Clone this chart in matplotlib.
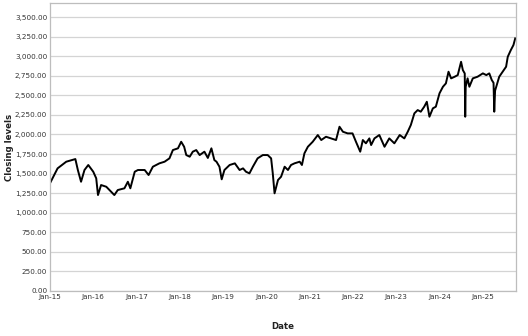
import matplotlib.pyplot as plt
import matplotlib.dates as mdates
import matplotlib.ticker as mticker
import numpy as np
import pandas as pd

# closing levels, roughly every few weeks
dates = [
    "2015-01-02", "2015-03-06", "2015-05-18", "2015-08-03", "2015-08-24", "2015-09-20",
    "2015-10-19", "2015-11-20", "2016-01-01", "2016-01-26", "2016-02-10", "2016-03-07",
    "2016-04-20", "2016-06-27", "2016-07-26", "2016-09-20", "2016-10-19", "2016-11-09",
    "2016-12-16", "2017-01-12", "2017-03-10", "2017-04-12", "2017-05-18", "2017-07-12",
    "2017-08-25", "2017-10-05", "2017-11-03", "2017-12-16", "2018-01-12", "2018-02-06",
    "2018-02-24", "2018-03-25", "2018-04-20", "2018-05-19", "2018-06-17", "2018-07-27",
    "2018-08-25", "2018-09-24", "2018-10-19", "2018-11-06", "2018-12-01", "2018-12-20",
    "2019-01-12", "2019-02-25", "2019-04-10", "2019-05-20", "2019-06-18", "2019-07-13",
    "2019-08-11", "2019-09-09", "2019-10-19", "2019-12-02", "2020-01-12", "2020-02-10",
    "2020-02-24", "2020-03-10", "2020-04-08", "2020-05-04", "2020-06-03", "2020-07-01",
    "2020-07-27", "2020-08-25", "2020-10-08", "2020-10-27", "2020-11-17", "2020-12-16",
    "2021-01-26", "2021-03-10", "2021-04-08", "2021-05-18", "2021-07-01", "2021-08-11",
    "2021-09-09", "2021-10-08", "2021-11-17", "2021-12-28", "2022-01-26", "2022-03-03",
    "2022-03-25", "2022-04-20", "2022-05-19", "2022-06-03", "2022-07-01", "2022-08-11",
    "2022-09-24", "2022-11-03", "2022-12-16", "2023-01-30", "2023-03-10", "2023-04-08",
    "2023-05-04", "2023-06-03", "2023-07-01", "2023-07-27", "2023-08-25", "2023-09-16",
    "2023-10-08", "2023-11-06", "2023-12-01", "2024-01-01", "2024-01-30", "2024-02-24",
    "2024-03-17", "2024-04-08", "2024-05-08", "2024-06-03", "2024-07-01", "2024-07-16",
    "2024-08-01", "2024-08-05", "2024-08-09", "2024-08-25", "2024-09-09", "2024-10-08",
    "2024-11-17", "2025-01-01", "2025-01-30", "2025-02-24", "2025-03-17", "2025-04-01",
    "2025-04-07", "2025-04-14", "2025-05-19", "2025-06-17", "2025-07-16", "2025-07-30",
    "2025-08-25", "2025-09-16", "2025-10-01",
]
closing = [
    1380, 1567, 1652, 1686, 1546, 1396,
    1546, 1610, 1524, 1440, 1226, 1354,
    1332, 1226, 1290, 1312, 1396, 1312,
    1524, 1546, 1546, 1482, 1588, 1631,
    1652, 1695, 1801, 1823, 1907, 1843,
    1737, 1716, 1780, 1801, 1737, 1780,
    1700, 1823, 1673, 1652, 1588, 1427,
    1546, 1610, 1631, 1546, 1567, 1524,
    1503, 1588, 1695, 1737, 1737, 1695,
    1503, 1248, 1418, 1460, 1588, 1546,
    1610, 1631, 1652, 1610, 1759, 1843,
    1907, 1993, 1929, 1971, 1950, 1929,
    2099, 2035, 2014, 2014, 1907, 1780,
    1929, 1887, 1950, 1865, 1950, 1993,
    1843, 1950, 1887, 1993, 1950, 2035,
    2121, 2270, 2312, 2291, 2355, 2418,
    2227, 2334, 2355, 2526, 2610, 2653,
    2802, 2717, 2738, 2759, 2929, 2823,
    2780, 2227, 2610, 2717, 2610, 2717,
    2738, 2781, 2759, 2781, 2696, 2660,
    2291, 2560, 2738, 2802, 2866, 2993,
    3079, 3143, 3228,
]
y_ticks = np.arange(0, 3501, 250)

df = pd.DataFrame({"date": pd.to_datetime(dates), "close": closing})

plt.rcParams["font.family"] = ["DejaVu Sans"]

fig = plt.figure(figsize=(5.28, 3.36), dpi=100)
ax = fig.add_axes([0.0947, 0.134, 0.882, 0.857])

ax.plot(df["date"], df["close"], color="black", lw=1.4)

ax.set_ylim(0, 3680)
ax.set_xlim(pd.Timestamp("2015-01-01"), pd.Timestamp("2025-10-05"))
ax.set_yticks(y_ticks)
ax.yaxis.set_major_formatter(mticker.FuncFormatter(lambda v, _: f"{v:,.2f}"))
ax.xaxis.set_major_locator(mdates.YearLocator(month=1, day=1))
ax.xaxis.set_major_formatter(mdates.DateFormatter("%b-%y"))

ax.grid(axis="y", color="#d4d4d4", lw=0.9)
ax.set_axisbelow(True)
for sp in ax.spines.values():
    sp.set_color("#bdbdbd")
    sp.set_linewidth(0.9)
ax.tick_params(length=0, labelsize=5.2, colors="#333333", pad=2)

ax.set_xlabel("Date", fontsize=6.2, fontweight="bold", labelpad=16, color="#222222")
ax.set_ylabel("Closing levels", fontsize=6.2, fontweight="bold", labelpad=1, color="#222222")

fig.savefig("out.png", dpi=100)
